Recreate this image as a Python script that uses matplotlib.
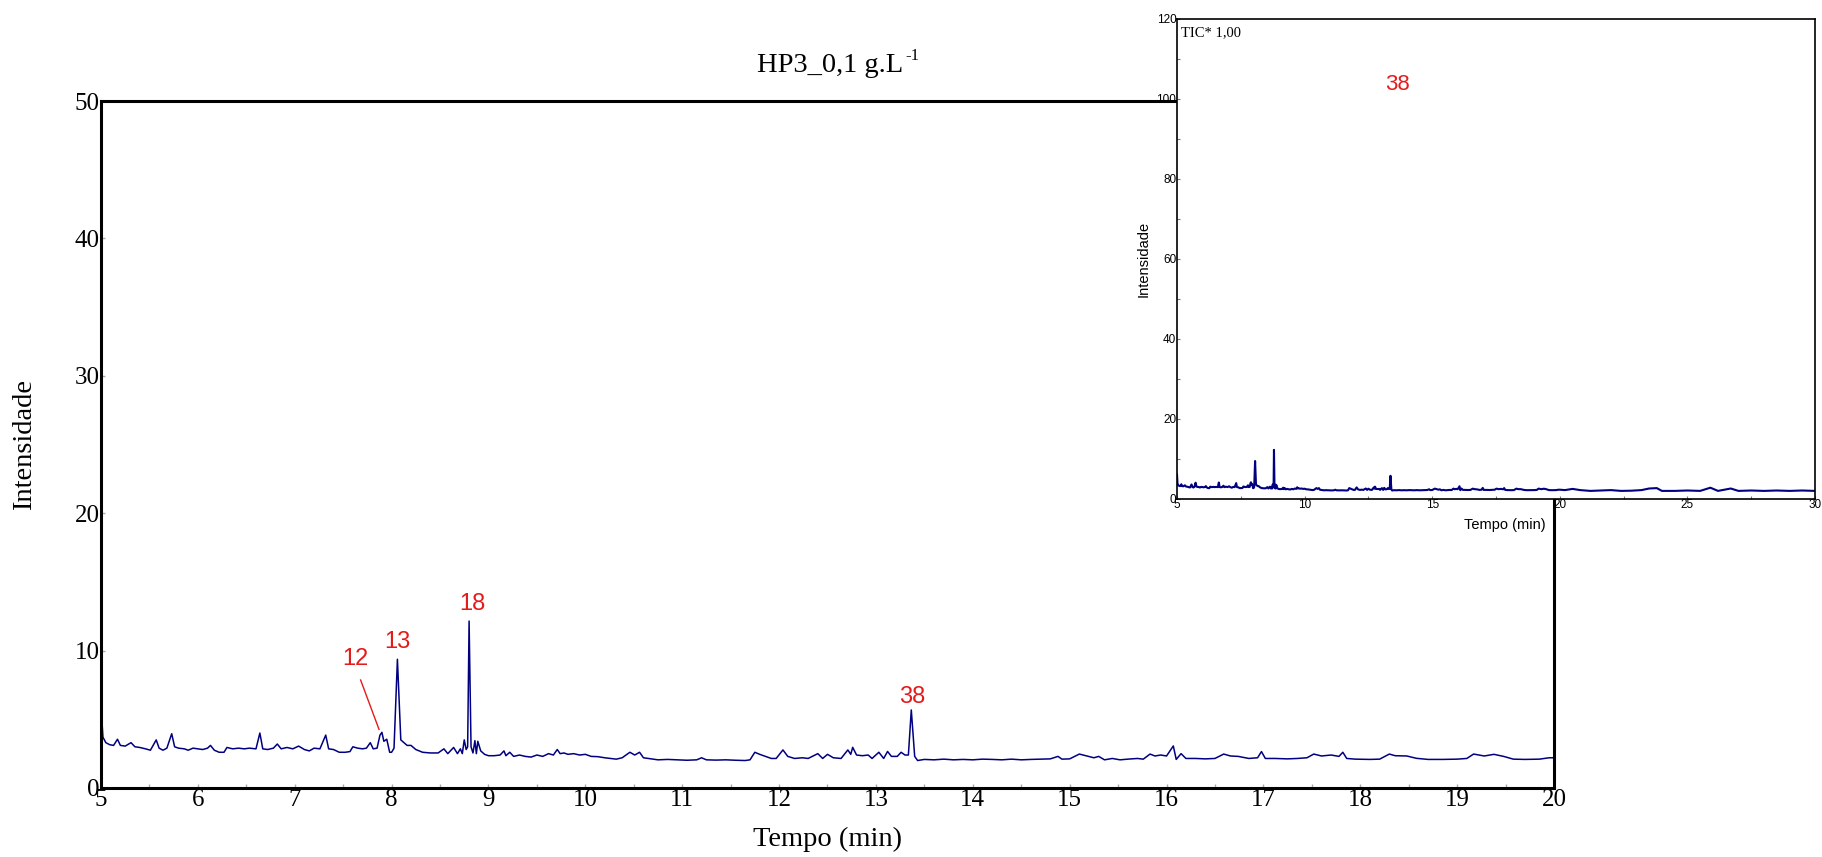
import matplotlib
matplotlib.use("Agg")
import matplotlib.pyplot as plt
from matplotlib.ticker import MultipleLocator

# ---------------- data ----------------
tempo_min = [5.00, 5.02, 5.05, 5.09, 5.13, 5.17, 5.20, 5.25, 5.31, 5.35, 5.40, 5.46, 5.51, 5.57, 5.60,
             5.64, 5.68, 5.73, 5.76, 5.80, 5.86, 5.90, 5.95, 6.00, 6.05, 6.10, 6.13, 6.17, 6.22, 6.27,
             6.30, 6.36, 6.42, 6.48, 6.53, 6.60, 6.64, 6.67, 6.72, 6.78, 6.82, 6.86, 6.92, 6.98, 7.04,
             7.10, 7.15, 7.20, 7.26, 7.32, 7.35, 7.40, 7.46, 7.52, 7.57, 7.60, 7.65, 7.70, 7.74, 7.78,
             7.81, 7.85, 7.88, 7.90, 7.92, 7.95, 7.98, 8.00, 8.025, 8.06, 8.095, 8.12, 8.16, 8.20, 8.25,
             8.32, 8.40, 8.48, 8.54, 8.58, 8.64, 8.68, 8.71, 8.73, 8.75, 8.77, 8.785, 8.80, 8.82, 8.84,
             8.86, 8.875, 8.89, 8.92, 8.96, 9.00, 9.06, 9.12, 9.16, 9.18, 9.22, 9.26, 9.32, 9.38, 9.44,
             9.50, 9.56, 9.62, 9.67, 9.71, 9.74, 9.78, 9.82, 9.88, 9.94, 10.00, 10.06, 10.13, 10.20, 10.26,
             10.32, 10.38, 10.46, 10.51, 10.56, 10.60, 10.65, 10.75, 10.85, 10.95, 11.05, 11.15, 11.20, 11.25, 11.35,
             11.45, 11.55, 11.65, 11.70, 11.75, 11.80, 11.86, 11.92, 11.97, 12.04, 12.09, 12.16, 12.24, 12.30, 12.40,
             12.45, 12.50, 12.56, 12.64, 12.71, 12.74, 12.76, 12.80, 12.86, 12.92, 12.96, 13.03, 13.08, 13.12, 13.16,
             13.22, 13.26, 13.30, 13.335, 13.365, 13.40, 13.43, 13.50, 13.60, 13.70, 13.80, 13.90, 14.00, 14.10, 14.20,
             14.30, 14.40, 14.50, 14.60, 14.70, 14.80, 14.88, 14.92, 15.00, 15.10, 15.18, 15.25, 15.30, 15.36, 15.44,
             15.52, 15.60, 15.70, 15.76, 15.83, 15.88, 15.94, 16.00, 16.07, 16.10, 16.15, 16.20, 16.30, 16.40, 16.50,
             16.59, 16.66, 16.74, 16.85, 16.94, 16.98, 17.02, 17.12, 17.25, 17.35, 17.45, 17.52, 17.60, 17.70, 17.78,
             17.82, 17.86, 17.95, 18.10, 18.20, 18.30, 18.36, 18.48, 18.58, 18.70, 18.85, 19.00, 19.10, 19.17, 19.28,
             19.38, 19.48, 19.58, 19.70, 19.85, 19.95, 20.00]

intensidade = [6.0, 3.7, 3.3, 3.15, 3.1, 3.55, 3.1, 3.05, 3.3, 3.0, 2.95, 2.85, 2.75, 3.5, 2.9,
               2.75, 2.9, 3.95, 3.0, 2.9, 2.85, 2.75, 2.9, 2.85, 2.8, 2.9, 3.1, 2.75, 2.6, 2.6,
               2.95, 2.85, 2.9, 2.85, 2.9, 2.85, 4.0, 2.85, 2.8, 2.9, 3.2, 2.85, 2.95, 2.85, 3.05,
               2.8, 2.7, 2.9, 2.85, 3.85, 2.85, 2.8, 2.6, 2.6, 2.65, 3.0, 2.9, 2.85, 2.9, 3.3,
               2.85, 2.9, 3.85, 4.05, 3.4, 3.55, 2.6, 2.6, 2.9, 9.37, 3.5, 3.35, 3.1, 3.1, 2.8,
               2.6, 2.55, 2.55, 2.85, 2.5, 2.95, 2.5, 2.85, 2.5, 3.5, 2.8, 3.0, 12.15, 3.0, 2.55,
               3.45, 2.5, 3.4, 2.7, 2.45, 2.35, 2.35, 2.4, 2.7, 2.35, 2.6, 2.3, 2.4, 2.3, 2.25,
               2.4, 2.3, 2.5, 2.4, 2.8, 2.5, 2.55, 2.45, 2.5, 2.4, 2.45, 2.3, 2.28, 2.2, 2.15,
               2.1, 2.2, 2.6, 2.4, 2.6, 2.2, 2.15, 2.05, 2.08, 2.05, 2.02, 2.05, 2.2, 2.05, 2.03,
               2.05, 2.02, 2.0, 2.05, 2.6, 2.45, 2.3, 2.15, 2.15, 2.77, 2.3, 2.15, 2.2, 2.15, 2.5,
               2.15, 2.45, 2.2, 2.15, 2.77, 2.45, 2.96, 2.4, 2.35, 2.4, 2.15, 2.6, 2.15, 2.66, 2.3,
               2.3, 2.6, 2.4, 2.4, 5.68, 2.3, 2.0, 2.08, 2.05, 2.1, 2.05, 2.08, 2.05, 2.1, 2.08,
               2.05, 2.1, 2.05, 2.08, 2.1, 2.12, 2.3, 2.1, 2.12, 2.47, 2.33, 2.2, 2.3, 2.05, 2.15,
               2.05, 2.1, 2.15, 2.1, 2.47, 2.33, 2.4, 2.33, 3.06, 2.08, 2.5, 2.15, 2.15, 2.12, 2.15,
               2.47, 2.33, 2.3, 2.15, 2.2, 2.65, 2.15, 2.15, 2.12, 2.15, 2.2, 2.47, 2.33, 2.4, 2.3,
               2.6, 2.15, 2.1, 2.08, 2.1, 2.47, 2.35, 2.33, 2.16, 2.08, 2.08, 2.1, 2.15, 2.47, 2.33,
               2.45, 2.3, 2.1, 2.08, 2.1, 2.2, 2.2]

# continuation of the run shown only in the inset (20-30 min)
tempo_ext = [20.2, 20.5, 20.8, 21.2, 21.6, 22.0, 22.4, 22.8, 23.2, 23.5, 23.8, 24.0, 24.5,
             25.0, 25.5, 25.9, 26.2, 26.7, 27.0, 27.5, 28.0, 28.5, 29.0, 29.5, 30.0]
intensidade_ext = [2.1, 2.4, 2.1, 1.9, 2.0, 2.1, 1.9, 1.95, 2.1, 2.5, 2.6, 1.9, 1.9,
                   2.0, 1.9, 2.7, 1.9, 2.5, 1.9, 2.0, 1.9, 2.0, 1.9, 2.0, 1.9]

picos = ["12", "13", "18", "38"]
picos_x = [7.63, 8.06, 8.83, 13.37]
picos_y = [9.4, 10.6, 13.4, 6.6]

titulo = "HP3_0,1 g.L"
titulo_sup = "-1"

# ---------------- style ----------------
LINE = "#000080"
RED = "#e31b1b"
SERIF = ["Liberation Serif", "DejaVu Serif"]
SANS = ["Liberation Sans", "DejaVu Sans"]

fig = plt.figure(figsize=(18.22, 8.57), dpi=100)

# main axes
ax = fig.add_axes([101/1822, 1 - 788/857, 1453/1822, 687/857])
ax.plot(tempo_min, intensidade, color=LINE, lw=1.1)
ax.set_xlim(5, 20)
ax.set_ylim(0, 50)
ax.xaxis.set_major_locator(MultipleLocator(1))
ax.xaxis.set_minor_locator(MultipleLocator(0.5))
ax.yaxis.set_major_locator(MultipleLocator(10))
ax.tick_params(which="both", direction="in", length=3, width=1, color="#aaaaaa",
               labelsize=18, pad=1)
for lab in ax.get_xticklabels() + ax.get_yticklabels():
    lab.set_fontfamily(SERIF)
for s in ax.spines.values():
    s.set_linewidth(2.2)
xl = ax.set_xlabel("Tempo (min)", fontsize=20.5, family=SERIF)
yl = ax.set_ylabel("Intensidade", fontsize=20.5, family=SERIF)
xl.set_va("center")
yl.set_va("center")
ax.xaxis.set_label_coords(0.5, (788 - 839) / 687)
ax.yaxis.set_label_coords((25 - 101) / 1453, 0.5)

for lab, x, y in zip(picos, picos_x, picos_y):
    ax.text(x, y, lab, color=RED, fontsize=17, family=SANS, ha="center", va="center")
# leader line for peak 12
ax.plot([7.68, 7.87], [7.86, 4.27], color=RED, lw=1.0)

fig.text(757/1822, 1 - 66/857, titulo, fontsize=20.5, family=SERIF, ha="left", va="center")
fig.text(905/1822, 1 - 56/857, titulo_sup, fontsize=12, family=SERIF, ha="left", va="center")

# inset axes
ins = fig.add_axes([1177/1822, 1 - 498.5/857, 638/1822, 480/857], zorder=5)
ins.set_facecolor("white")
ins.plot(tempo_min + tempo_ext, intensidade + intensidade_ext, color=LINE, lw=1.5)
ins.set_xlim(5, 30)
ins.set_ylim(0, 120)
ins.xaxis.set_major_locator(MultipleLocator(5))
ins.xaxis.set_minor_locator(MultipleLocator(2.5))
ins.yaxis.set_major_locator(MultipleLocator(20))
ins.yaxis.set_minor_locator(MultipleLocator(10))
ins.tick_params(which="both", direction="in", length=2, width=0.8, color="#777777",
                labelsize=8.5, pad=0.5)
for lab in ins.get_xticklabels() + ins.get_yticklabels():
    lab.set_fontfamily(SANS)
for s in ins.spines.values():
    s.set_linewidth(1.2)
ixl = ins.set_xlabel("Tempo (min)", fontsize=10.5, family=SANS)
iyl = ins.set_ylabel("Intensidade", fontsize=10.5, family=SANS)
ixl.set_va("center")
iyl.set_va("center")
ins.xaxis.set_label_coords(0.514, (498.5 - 525) / 480)
ins.yaxis.set_label_coords((1144 - 1177) / 638, 0.5)
ins.text(0.006, 0.985, "TIC* 1,00", transform=ins.transAxes, fontsize=10.5,
         family=SERIF, ha="left", va="top")
ins.text(13.65, 103.5, "38", color=RED, fontsize=16, family=SANS, ha="center", va="center")

fig.savefig("out.png", dpi=100)
